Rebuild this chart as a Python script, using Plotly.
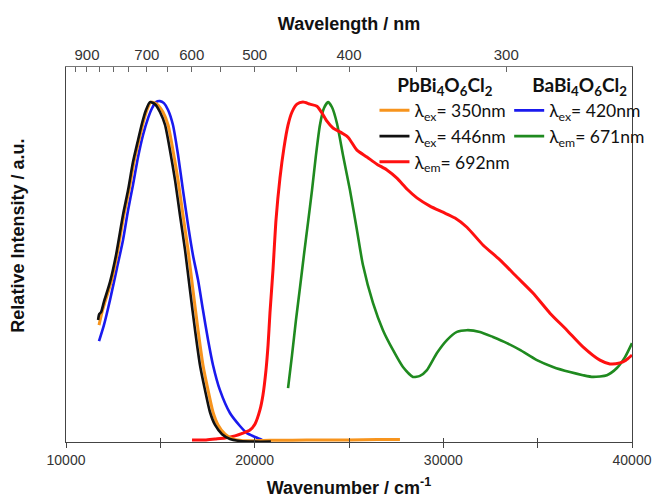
import plotly.graph_objects as go

# ---------------- data (wavenumber cm^-1, relative intensity) ----------------
orange_x = [11750, 11910, 12070, 12390, 12700, 13070, 13340, 13600, 13870, 14080, 14290, 14500,
            14820, 15140, 15410, 15670, 15940, 16200, 16470, 16730, 17000, 17260, 17530, 17790,
            18060, 18430, 18850, 19380, 20000, 20800, 22000, 23500, 25000, 26500, 27700]
orange_y = [0.343, 0.381, 0.411, 0.469, 0.548, 0.666, 0.739, 0.821, 0.886, 0.935, 0.974, 0.997,
            0.991, 0.968, 0.930, 0.856, 0.768, 0.666, 0.563, 0.446, 0.328, 0.226, 0.152, 0.088,
            0.050, 0.023, 0.009, 0.004, 0.004, 0.005, 0.005, 0.006, 0.006, 0.007, 0.007]

black_x = [11700, 11760, 11860, 12010, 12330, 12650, 13020, 13290, 13550, 13820, 14030, 14240,
           14450, 14720, 14980, 15250, 15510, 15780, 16040, 16310, 16570, 16840, 17100, 17370,
           17630, 17900, 18270, 18690, 19220, 20020, 20860]
black_y = [0.358, 0.375, 0.381, 0.411, 0.469, 0.548, 0.666, 0.739, 0.821, 0.886, 0.935, 0.974,
           0.997, 0.991, 0.968, 0.930, 0.856, 0.768, 0.666, 0.563, 0.446, 0.328, 0.226, 0.152,
           0.088, 0.050, 0.023, 0.009, 0.003, 0.001, 0.001]

red_x = [16680, 17370, 17900, 18430, 18960, 19380, 19750, 20020, 20280, 20440, 20600, 20710,
         20810, 20970, 21130, 21340, 21550, 21770, 21980, 22240, 22560, 22930, 23300, 23570,
         23830, 24150, 24630, 24950, 25420, 25950, 26480, 27010, 27540, 28070, 28600, 29290,
         29980, 30620, 31250, 32100, 33000, 33900, 34750, 35650, 36550, 37400, 38300, 38830,
         39360, 39680, 40000]
red_y = [0.006, 0.006, 0.009, 0.012, 0.018, 0.026, 0.035, 0.053, 0.094, 0.138, 0.211, 0.284,
         0.378, 0.504, 0.651, 0.774, 0.862, 0.930, 0.968, 0.991, 0.997, 0.991, 0.985, 0.965,
         0.941, 0.921, 0.906, 0.894, 0.856, 0.836, 0.815, 0.798, 0.774, 0.742, 0.716, 0.692,
         0.674, 0.657, 0.630, 0.578, 0.534, 0.484, 0.437, 0.378, 0.328, 0.279, 0.240, 0.229,
         0.232, 0.240, 0.255]

blue_x = [11750, 12010, 12330, 12700, 13020, 13290, 13550, 13820, 14080, 14350, 14560, 14770,
          14980, 15190, 15410, 15670, 15940, 16200, 16470, 16730, 17000, 17260, 17530, 17790,
          18160, 18690, 19220, 19590, 20020, 20390, 20810]
blue_y = [0.296, 0.343, 0.416, 0.510, 0.592, 0.680, 0.754, 0.836, 0.900, 0.950, 0.979, 0.997,
          1.000, 0.994, 0.974, 0.930, 0.842, 0.739, 0.636, 0.548, 0.475, 0.387, 0.299, 0.226,
          0.152, 0.085, 0.047, 0.026, 0.015, 0.006, 0.003]

green_x = [21770, 21980, 22190, 22400, 22610, 22830, 23040, 23250, 23460, 23670, 23890, 24100,
           24360, 24680, 25050, 25420, 25740, 26270, 26800, 27330, 27860, 28390, 28760, 29130,
           29660, 30190, 30720, 31250, 31940, 32630, 33370, 34060, 34960, 35810, 36710, 37400,
           37930, 38670, 39200, 39630, 40000]
green_y = [0.158, 0.255, 0.358, 0.452, 0.548, 0.645, 0.739, 0.842, 0.930, 0.979, 0.997, 0.982,
           0.935, 0.842, 0.739, 0.622, 0.519, 0.408, 0.328, 0.270, 0.220, 0.191, 0.194, 0.211,
           0.261, 0.299, 0.323, 0.328, 0.323, 0.308, 0.290, 0.270, 0.240, 0.220, 0.205, 0.196,
           0.191, 0.196, 0.217, 0.249, 0.290]

wl_labels = [900, 700, 600, 500, 400, 300]            # top axis (nm)
wl_minor = [1000, 950, 850, 800, 750, 650, 550, 450, 350, 250]
wn_ticks = [10000, 20000, 30000, 40000]
wn_minor = [15000, 25000, 35000]

fig = go.Figure()

def add(x, y, color, name, legend, rank, width=2.6):
    fig.add_trace(go.Scatter(x=x, y=y, mode="lines", name=name, legend=legend, legendrank=rank,
                             line=dict(color=color, width=width, shape="spline", smoothing=0.6)))

add(blue_x, blue_y, "#1a1aee", "λ<sub>ex</sub>= 420nm", "legend2", 1)
add(green_x, green_y, "#1f8a1f", "λ<sub>em</sub>= 671nm", "legend2", 2)
add(red_x, red_y, "#ff1010", "λ<sub>em</sub>= 692nm", "legend", 3, 3)
add(orange_x, orange_y, "#f7941d", "λ<sub>ex</sub>= 350nm", "legend", 1, 3)
add(black_x, black_y, "#111111", "λ<sub>ex</sub>= 446nm", "legend", 2, 2.6)

axis_line = "#444444"
title_font = dict(family="Liberation Sans, Arial", size=18, color="#111")
leg_font = dict(family="Lato", size=17.5, color="#111")
head_font = dict(family="Lato", size=19, color="#111")
fig.update_layout(
    width=654, height=499,
    margin=dict(l=66, r=22, t=67, b=57, autoexpand=False),
    paper_bgcolor="white", plot_bgcolor="white",
    font=dict(family="Liberation Sans, Arial", color="#222"),
    xaxis=dict(range=[10000, 40000], tickmode="array", tickvals=wn_ticks,
               ticktext=[str(v) for v in wn_ticks], ticks="outside", ticklen=5, tickwidth=1,
               tickcolor=axis_line, showline=True, linecolor=axis_line, linewidth=1,
               showgrid=False, zeroline=False, tickfont=dict(size=14, color="#333"),
               minor=dict(tickmode="array", tickvals=wn_minor, ticks="outside", ticklen=5,
                          tickcolor=axis_line, showgrid=False),
               title=dict(text="<b>Wavenumber / cm<sup>-1</sup></b>", font=title_font,
                          standoff=14)),
    xaxis3=dict(range=[10000, 40000], overlaying="x", side="bottom", anchor="y",
                tickmode="array", tickvals=wn_ticks, ticks="inside", ticklen=4,
                tickcolor=axis_line, showticklabels=False, showgrid=False, zeroline=False,
                minor=dict(tickmode="array", tickvals=wn_minor, ticks="inside", ticklen=4,
                           tickcolor=axis_line, showgrid=False)),
    xaxis2=dict(range=[10000, 40000], overlaying="x", side="top", anchor="y",
                tickmode="array", tickvals=[1e7 / w for w in wl_labels],
                ticktext=[str(w) for w in wl_labels], ticks="inside", ticklen=5,
                tickcolor="#666", showline=True, linecolor="#777", linewidth=1,
                showgrid=False, zeroline=False, tickfont=dict(size=15, color="#333"),
                minor=dict(tickmode="array", tickvals=[1e7 / w for w in wl_minor],
                           ticks="inside", ticklen=5, tickcolor="#666", showgrid=False),
                title=dict(text="<b>Wavelength / nm</b>", font=title_font, standoff=10)),
    yaxis=dict(range=[0, 1.1], showticklabels=False, ticks="", showgrid=False, zeroline=False,
               showline=True, mirror=True, linecolor=axis_line, linewidth=1),
    legend=dict(x=0.545, y=0.998, xanchor="left", yanchor="top", bgcolor="rgba(0,0,0,0)",
                font=leg_font, itemwidth=30, tracegroupgap=0,
                title=dict(text="<b>PbBi<sub>4</sub>O<sub>6</sub>Cl<sub>2</sub></b>",
                           side="top center", font=head_font)),
    legend2=dict(x=0.783, y=0.998, xanchor="left", yanchor="top", bgcolor="rgba(0,0,0,0)",
                 font=leg_font, itemwidth=30, tracegroupgap=0,
                 title=dict(text="<b>BaBi<sub>4</sub>O<sub>6</sub>Cl<sub>2</sub></b>",
                            side="top center", font=head_font)),
    annotations=[dict(text="<b>Relative Intensity / a.u.</b>", textangle=-90, font=title_font,
                      xref="paper", yref="paper", x=-0.085, y=0.55, xanchor="center",
                      yanchor="middle", showarrow=False)],
)
# invisible helpers that activate the overlay axes
fig.add_trace(go.Scatter(x=[10000], y=[0], xaxis="x2", mode="markers", marker=dict(opacity=0),
                         showlegend=False, hoverinfo="skip"))
fig.add_trace(go.Scatter(x=[10000], y=[0], xaxis="x3", mode="markers", marker=dict(opacity=0),
                         showlegend=False, hoverinfo="skip"))

fig.write_html("out.html")
